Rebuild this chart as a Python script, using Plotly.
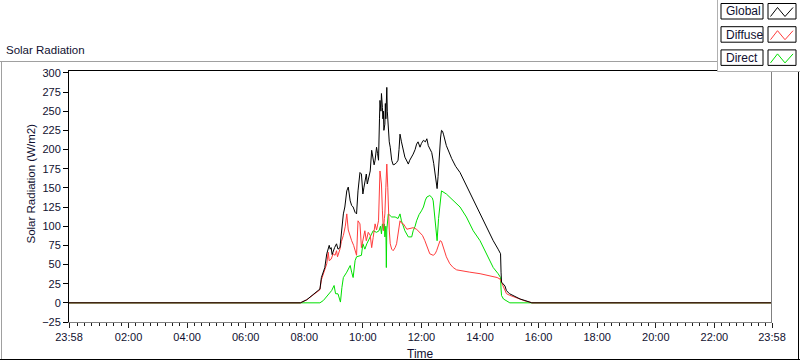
import plotly.graph_objects as go

DAY = "2024-01-02"
X_START = "2024-01-01 23:58"
X_END = "2024-01-02 23:58"

# ---------------- data (W/m2) ----------------
global_t = [X_START, "07:52", "08:05", "08:18", "08:28", "08:32", "08:35", "08:38", "08:42", "08:46",
            "08:49", "08:51", "08:53", "08:55", "08:57", "08:59", "09:02", "09:06", "09:09", "09:13",
            "09:16", "09:20", "09:23", "09:27", "09:30", "09:32", "09:34", "09:37", "09:40", "09:44",
            "09:47", "09:50", "09:52", "09:54", "09:57", "10:00", "10:02", "10:04", "10:07", "10:09",
            "10:11", "10:13", "10:15", "10:18", "10:21", "10:23", "10:25", "10:28", "10:30", "10:32",
            "10:34", "10:35", "10:37", "10:38", "10:40", "10:41", "10:42", "10:43", "10:45", "10:46",
            "10:47", "10:49", "10:50", "10:52", "10:54", "10:56", "10:59", "11:02", "11:06", "11:09",
            "11:12", "11:14", "11:16", "11:19", "11:22", "11:26", "11:30", "11:33", "11:36", "11:40",
            "11:43", "11:47", "11:50", "11:53", "11:57", "12:00", "12:04", "12:08", "12:11", "12:14",
            "12:18", "12:21", "12:25", "12:28", "12:30", "12:32", "12:34", "12:36", "12:39", "12:41",
            "12:43", "12:45", "12:51", "13:02", "13:10", "13:19", "13:32", "13:46", "14:00", "14:13",
            "14:27", "14:37", "14:42", "14:43", "14:44", "14:51", "14:54", "15:00", "15:08", "15:15",
            "15:22", "15:32", "15:42", "15:46", X_END]
global_v = [0, 0, 4, 11, 16, 18, 33, 38, 46, 64,
            73, 75, 70, 72, 63, 68, 72, 77, 70, 72,
            95, 116, 125, 146, 151, 140, 133, 127, 125, 118,
            116, 146, 160, 170, 168, 142, 150, 160, 168, 155,
            160, 165, 172, 199, 190, 180, 186, 203, 195, 186,
            240, 264, 250, 273, 255, 240, 250, 225, 233, 260,
            240, 281, 250, 225, 210, 203, 186, 180, 181, 183,
            186, 200, 220, 210, 200, 190, 185, 181, 186, 190,
            194, 200, 207, 210, 203, 208, 212, 210, 214, 205,
            200, 196, 182, 168, 160, 149, 165, 190, 215, 225,
            224, 220, 205, 188, 178, 170, 153, 136, 118, 99,
            81, 70, 64, 40, 27, 22, 16, 12, 9.5, 7,
            5, 3, 1, 0, 0]

diffuse_t = [X_START, "07:52", "08:05", "08:18", "08:28", "08:32", "08:35", "08:38", "08:42", "08:46",
             "08:49", "08:51", "08:55", "08:59", "09:03", "09:06", "09:08", "09:13", "09:16", "09:20",
             "09:24", "09:27", "09:30", "09:33", "09:37", "09:41", "09:44", "09:47", "09:50", "09:54",
             "09:57", "10:00", "10:04", "10:07", "10:11", "10:15", "10:18", "10:21", "10:25", "10:28",
             "10:32", "10:35", "10:37", "10:38", "10:40", "10:42", "10:44", "10:45", "10:47", "10:49",
             "10:51", "10:52", "10:54", "10:56", "10:59", "11:02", "11:06", "11:09", "11:12", "11:16",
             "11:19", "11:23", "11:30", "11:36", "11:43", "11:50", "11:57", "12:02", "12:07", "12:12",
             "12:17", "12:24", "12:28", "12:31", "12:35", "12:38", "12:41", "12:45", "12:51", "12:58",
             "13:05", "13:12", "13:19", "13:39", "14:00", "14:20", "14:35", "14:41", "14:44", "14:48",
             "14:54", "15:00", "15:08", "15:15", "15:22", "15:32", "15:42", "15:46", X_END]
diffuse_v = [0, 0, 4, 10, 15, 17, 30, 36, 44, 51,
             66, 55, 57, 64, 62, 68, 60, 70, 80, 88,
             100, 116, 95, 88, 81, 75, 68, 62, 107, 103,
             72, 80, 94, 81, 92, 88, 72, 85, 103, 95,
             107, 172, 160, 155, 120, 94, 110, 116, 150, 181,
             150, 125, 95, 77, 70, 68, 72, 77, 90, 107,
             104, 103, 96, 97, 98, 96, 92, 88, 81, 72,
             64, 62, 64, 68, 76, 81, 80, 72, 60, 51,
             46, 43, 42, 40, 38, 35.6, 33, 31, 27, 20,
             12, 10, 8, 6, 4.5, 2.5, 1, 0, 0]

direct_t = [X_START, "08:32", "08:39", "08:45", "08:49", "08:56", "09:01", "09:03", "09:04", "09:09",
            "09:12", "09:14", "09:17", "09:20", "09:27", "09:34", "09:37", "09:40", "09:44", "09:47",
            "09:52", "09:57", "10:00", "10:04", "10:08", "10:15", "10:21", "10:28", "10:33", "10:36",
            "10:38", "10:40", "10:42", "10:44", "10:45", "10:47", "10:48", "10:49", "10:52", "10:59",
            "11:06", "11:12", "11:16", "11:19", "11:26", "11:33", "11:40", "11:43", "11:47", "11:50",
            "11:55", "12:00", "12:04", "12:08", "12:11", "12:17", "12:22", "12:24", "12:28", "12:31",
            "12:32", "12:35", "12:38", "12:41", "12:51", "13:05", "13:19", "13:32", "13:46", "14:00",
            "14:13", "14:27", "14:37", "14:42", "14:43", "14:44", "14:48", "14:54", "15:01", X_END]
direct_v = [0, 0, 3, 8, 11.7, 16, 22.6, 14, 12, 11.7,
            5, 1, 20, 33, 40, 48.7, 40, 33, 55, 60,
            61, 62, 77, 70, 77, 86, 94, 92, 94, 100,
            90, 103, 95, 103, 86, 100, 46, 95, 116, 112,
            112, 110, 116, 107, 94, 86, 86, 94, 100, 107,
            115, 120, 125, 134, 138, 140, 137, 133, 107, 90,
            81, 110, 133, 146, 142, 133, 125, 112, 94, 81,
            64, 46, 38, 33, 18, 9.5, 5, 3, 0, 0]

series_names = ["Global", "Diffuse", "Direct"]
series_colors = ["#000000", "#ff3c3c", "#00e000"]

tick_labels = ["23:58", "02:00", "04:00", "06:00", "08:00", "10:00", "12:00",
               "14:00", "16:00", "18:00", "20:00", "22:00", "23:58"]
tick_times = [X_START, "02:00", "04:00", "06:00", "08:00", "10:00", "12:00",
              "14:00", "16:00", "18:00", "20:00", "22:00", X_END]
y_ticks = [-25, 0, 25, 50, 75, 100, 125, 150, 175, 200, 225, 250, 275, 300]


def ts(t):
    return t if " " in t else DAY + " " + t


W, H = 800, 361
L, R, T, B = 69, 28, 70, 39
PW, PH = W - L - R, H - T - B


def px(x):
    return (x - L) / PW


def py(y):
    return (H - B - y) / PH


FONT = "Liberation Sans"
TXT = "#101030"

fig = go.Figure()
data = {"Global": (global_t, global_v), "Diffuse": (diffuse_t, diffuse_v), "Direct": (direct_t, direct_v)}
for name in ["Direct", "Diffuse", "Global"]:
    t, v = data[name]
    fig.add_trace(go.Scatter(
        x=[ts(s) for s in t], y=v, mode="lines", name=name,
        line=dict(color=series_colors[series_names.index(name)], width=1),
        showlegend=False, hoverinfo="skip"))

shapes = []
annos = []


def line(x0, y0, x1, y1, color, width=1):
    shapes.append(dict(type="line", xref="paper", yref="paper", x0=px(x0), y0=py(y0),
                       x1=px(x1), y1=py(y1), line=dict(color=color, width=width), layer="above"))


def rect(x0, y0, x1, y1, line_color, fill="white", width=1):
    shapes.append(dict(type="rect", xref="paper", yref="paper", x0=px(x0), y0=py(y0),
                       x1=px(x1), y1=py(y1), line=dict(color=line_color, width=width),
                       fillcolor=fill, layer="above"))


# outer frame
line(0, 61.5, 800, 61.5, "#a0a0a0")
line(1.5, 61.5, 1.5, 359.5, "#a0a0a0")
line(0, 359.5, 800, 359.5, "#000000")
line(798.5, 61.5, 798.5, 360, "#000000")
# plot frame top/right
line(68.5, 70.5, 772, 70.5, "#000000")
line(771.5, 70.5, 771.5, 322, "#808080")

# legend panel
rect(717, -2, 802, 72, "rgba(0,0,0,0)", fill="white", width=0)
line(717.5, 0, 717.5, 71.5, "#b0b0b0")
line(717.5, 71.5, 800, 71.5, "#b0b0b0")
for i, name in enumerate(series_names):
    dy = i * 23.2
    rect(721, 3.5 + dy, 763, 19 + dy, "#000000")
    rect(768, 3.5 + dy, 796, 19 + dy, "#000000")
    pts = [(770.5, 16.5), (777.5, 7.5), (785, 16.5), (793, 7.5)]
    path = "M " + " L ".join(f"{px(a)},{py(b + dy)}" for a, b in pts)
    shapes.append(dict(type="path", xref="paper", yref="paper", path=path,
                       line=dict(color=series_colors[i], width=1), layer="above"))
    annos.append(dict(text=name, xref="paper", yref="paper", x=px(723.5), y=py(11.5 + dy),
                      xanchor="left", yanchor="middle", showarrow=False,
                      font=dict(family=FONT, size=12, color=TXT)))

annos.append(dict(text="Solar Radiation", xref="paper", yref="paper", x=px(4), y=py(50),
                  xanchor="left", yanchor="middle", showarrow=False,
                  font=dict(family=FONT, size=11.5, color=TXT)))
annos.append(dict(text="Time", xref="paper", yref="paper", x=px(420), y=py(353.5),
                  xanchor="center", yanchor="middle", showarrow=False,
                  font=dict(family=FONT, size=12, color=TXT)))
annos.append(dict(text="Solar Radiation (W/m2)", xref="paper", yref="paper", x=px(30.5), y=py(184),
                  xanchor="center", yanchor="middle", showarrow=False, textangle=-90,
                  font=dict(family=FONT, size=11.5, color=TXT)))

fig.update_layout(
    width=W, height=H, margin=dict(l=L, r=R, t=T, b=B, pad=0),
    paper_bgcolor="white", plot_bgcolor="white",
    shapes=shapes, annotations=annos, showlegend=False,
    font=dict(family=FONT, size=11, color=TXT),
)
fig.update_xaxes(
    type="date", range=[X_START, X_END],
    tickmode="array", tickvals=[ts(s) for s in tick_times], ticktext=tick_labels,
    ticks="outside", ticklen=5, tickcolor="#202020", tickwidth=1,
    showgrid=False, zeroline=False, showline=True, linecolor="#808080", linewidth=1,
    tickfont=dict(family=FONT, size=11, color=TXT),
    minor=dict(ticks="outside", ticklen=3, tickcolor="#202020", dtick=900000,
               tick0=DAY + " 00:00", showgrid=False),
)
fig.update_yaxes(
    range=[-25, -25 + PH * 300 / 230], tickmode="array", tickvals=y_ticks,
    ticks="outside", ticklen=5, tickcolor="#000000",
    showgrid=False, zeroline=False, showline=True, linecolor="#000000", linewidth=1,
    tickfont=dict(family=FONT, size=11, color=TXT),
)

fig.write_html("out.html", config={"displayModeBar": False},
               post_script="document.body.style.margin='0';document.body.style.overflow='hidden';")
